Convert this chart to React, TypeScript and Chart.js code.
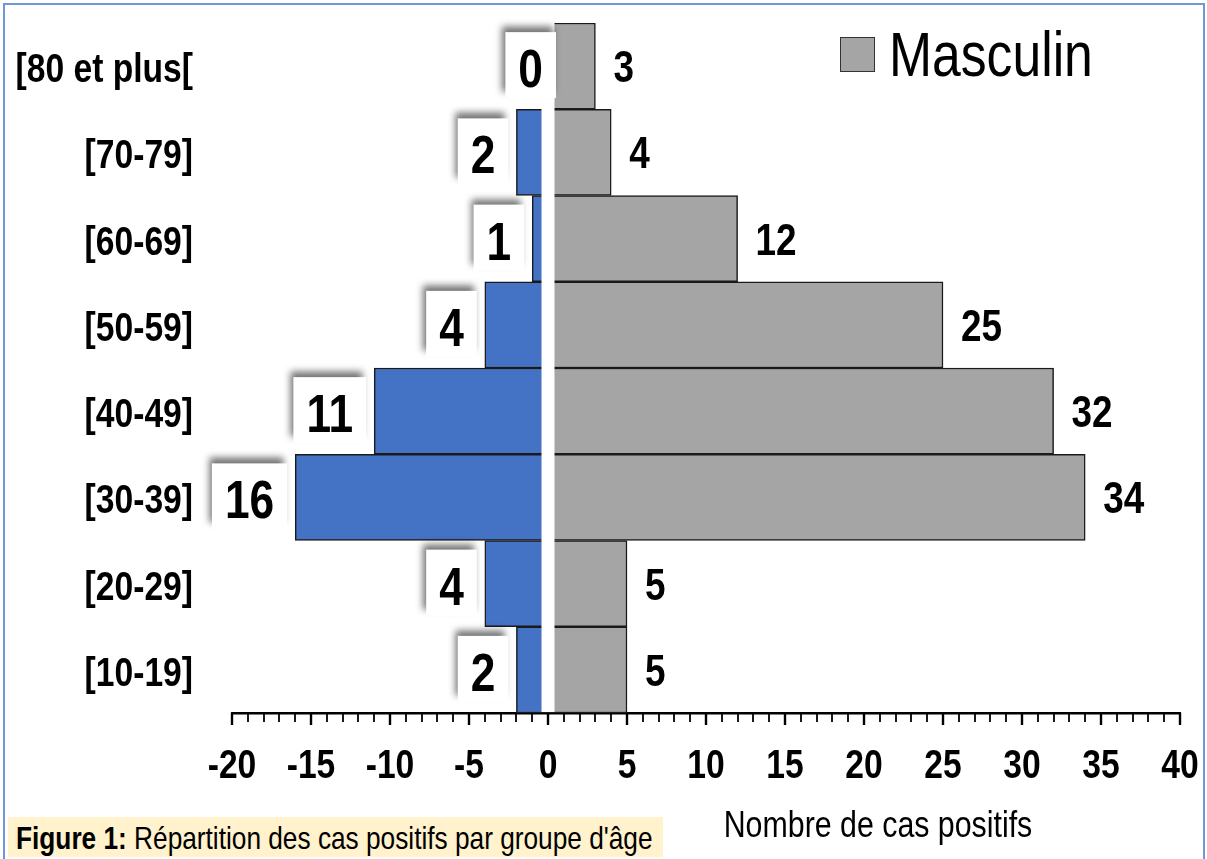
import React, { useEffect, useRef } from "react";
import { Chart, registerables } from "chart.js";

Chart.register(...registerables);

const AGE_GROUPS = ["[80 et plus[", "[70-79]", "[60-69]", "[50-59]", "[40-49]", "[30-39]", "[20-29]", "[10-19]"];
const FEMININ = [0, 2, 1, 4, 11, 16, 4, 2];
const MASCULIN = [3, 4, 12, 25, 32, 34, 5, 5];
const X_MIN = -20;
const X_MAX = 40;
const X_MAJOR = 5;
const LEGEND_LABEL = "Masculin";
const AXIS_TITLE = "Nombre de cas positifs";

const FONT = "'Liberation Sans', Arial, sans-serif";
const NARROW = 0.82;
const BLUE = "#4472C4";
const GREY = "#A5A5A5";

function narrowText(ctx: any, text: string, x: number, y: number, size: number, bold: boolean, align: string) {
  ctx.save();
  ctx.translate(x, y);
  ctx.scale(NARROW, 1);
  ctx.font = `${bold ? "bold " : ""}${size}px ${FONT}`;
  ctx.textAlign = align;
  ctx.textBaseline = "alphabetic";
  ctx.fillStyle = "#000";
  ctx.fillText(text, 0, 0);
  ctx.restore();
}

function narrowWidth(ctx: any, text: string, size: number, bold: boolean) {
  ctx.save();
  ctx.font = `${bold ? "bold " : ""}${size}px ${FONT}`;
  const w = ctx.measureText(text).width * NARROW;
  ctx.restore();
  return w;
}

const overlayPlugin = {
  id: "pyramidOverlay",
  afterDatasetsDraw(chart: any) {
    const ctx = chart.ctx;
    const xs = chart.scales.x;
    const area = chart.chartArea;
    const x0 = xs.getPixelForValue(0);
    ctx.save();
    ctx.fillStyle = "#ffffff";
    ctx.fillRect(x0 - 6.5, area.top - 5, 13, area.bottom - area.top + 4);
    ctx.restore();

    const fMeta = chart.getDatasetMeta(0);
    const mMeta = chart.getDatasetMeta(1);
    fMeta.data.forEach((el: any, i: number) => {
      const v = FEMININ[i];
      const text = String(v);
      const tw = narrowWidth(ctx, text, 54, true);
      const bw = tw + 26;
      const bh = 66;
      const right = v === 0 ? x0 + 8 : el.x - 8;
      const left = right - bw;
      const top = el.y - 34;
      ctx.save();
      ctx.shadowColor = "rgba(0,0,0,0.55)";
      ctx.shadowBlur = 7;
      ctx.shadowOffsetX = -3;
      ctx.shadowOffsetY = -6;
      ctx.fillStyle = "#ffffff";
      ctx.fillRect(left, top, bw, bh);
      ctx.restore();
      narrowText(ctx, text, left + bw / 2, el.y + 21, 54, true, "center");
    });
    mMeta.data.forEach((el: any, i: number) => {
      narrowText(ctx, String(MASCULIN[i]), el.x + 18, el.y + 16, 45, true, "left");
    });
  },
  afterDraw(chart: any) {
    const ctx = chart.ctx;
    const xs = chart.scales.x;
    const ys = chart.scales.y;
    const area = chart.chartArea;
    ctx.save();
    ctx.strokeStyle = "#000";
    for (let v = X_MIN; v <= X_MAX; v++) {
      const x = Math.round(xs.getPixelForValue(v));
      const major = v % X_MAJOR === 0;
      ctx.lineWidth = major ? 2.4 : 1.8;
      ctx.beginPath();
      ctx.moveTo(x, area.bottom);
      ctx.lineTo(x, area.bottom + (major ? 12 : 9));
      ctx.stroke();
      if (major) narrowText(ctx, String(v), x, 778, 41, true, "center");
    }
    ctx.restore();
    AGE_GROUPS.forEach((lab, i) => {
      const y = ys.getPixelForValue(i);
      narrowText(ctx, lab, area.left - 39, y + 16, 41, true, "right");
    });
    ctx.save();
    ctx.fillStyle = GREY;
    ctx.fillRect(840.5, 37.5, 34, 34);
    ctx.strokeStyle = "#333";
    ctx.lineWidth = 1;
    ctx.strokeRect(840.5, 37.5, 34, 34);
    ctx.restore();
    narrowText(ctx, LEGEND_LABEL, 889, 76, 63, false, "left");
    narrowText(ctx, AXIS_TITLE, 878, 837, 37, false, "center");
  },
};

export default function App() {
  const canvasRef = useRef<HTMLCanvasElement | null>(null);

  useEffect(() => {
    const canvas = canvasRef.current;
    if (!canvas) return;
    const chart = new Chart(canvas, {
      type: "bar",
      data: {
        labels: AGE_GROUPS,
        datasets: [
          {
            label: "Féminin",
            data: FEMININ.map((v) => -v),
            backgroundColor: BLUE,
            borderColor: "#1a1a1a",
            borderWidth: 1.5,
            borderSkipped: false,
            barPercentage: 1,
            categoryPercentage: 1,
          },
          {
            label: LEGEND_LABEL,
            data: MASCULIN,
            backgroundColor: GREY,
            borderColor: "#1a1a1a",
            borderWidth: 1.5,
            borderSkipped: false,
            barPercentage: 1,
            categoryPercentage: 1,
          },
        ],
      },
      options: {
        indexAxis: "y",
        responsive: false,
        animation: false,
        devicePixelRatio: 1,
        layout: { padding: { top: 23, right: 27, bottom: 0, left: 0 } },
        plugins: {
          legend: { display: false },
          tooltip: { enabled: false },
        },
        scales: {
          x: {
            type: "linear",
            min: X_MIN,
            max: X_MAX,
            stacked: true,
            afterFit: (scale: any) => {
              scale.height = 146;
            },
            border: { display: true, color: "#000", width: 2.5 },
            grid: { display: false, drawOnChartArea: false, drawTicks: false },
            ticks: { display: false, stepSize: 1 },
          },
          y: {
            stacked: true,
            afterFit: (scale: any) => {
              scale.width = 232;
            },
            border: { display: false },
            grid: { display: false, drawTicks: false },
            ticks: { display: false },
          },
        },
      },
      plugins: [overlayPlugin],
    } as any);
    return () => chart.destroy();
  }, []);

  return (
    <div style={{ position: "fixed", left: 0, top: 0, width: 1207, height: 859, background: "#fff", overflow: "hidden" }}>
      <div
        style={{
          position: "absolute",
          left: 3,
          top: 3,
          width: 1202,
          height: 870,
          border: "2px solid #7097D8",
          borderBottom: "none",
          boxSizing: "border-box",
        }}
      />
      <canvas ref={canvasRef} width={1207} height={859} style={{ position: "absolute", left: 0, top: 0 }} />
      <div
        style={{
          position: "absolute",
          left: 8,
          top: 817,
          width: 655,
          height: 40,
          background: "#FFF2CC",
          overflow: "hidden",
        }}
      >
        <span
          style={{
            position: "absolute",
            left: 8,
            top: 1,
            display: "inline-block",
            fontFamily: FONT,
            fontSize: 32,
            lineHeight: "40px",
            color: "#000",
            whiteSpace: "nowrap",
            transform: `scaleX(${NARROW})`,
            transformOrigin: "left center",
          }}
        >
          <b>Figure 1:</b> Répartition des cas positifs par groupe d'âge
        </span>
      </div>
    </div>
  );
}
